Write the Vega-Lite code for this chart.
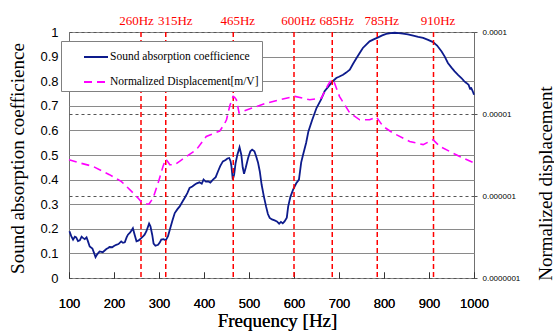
{
  "$schema": "https://vega.github.io/schema/vega-lite/v6.json",
  "width": 405,
  "height": 246,
  "autosize": {"type": "none"},
  "padding": {"left": 69, "top": 32, "right": 80, "bottom": 55},
  "background": "white",
  "config": {
    "font": "Liberation Sans",
    "view": {"stroke": "#707070", "strokeWidth": 1}
  },
  "datasets": {
    "absorption": [
      {"f":101,"a":0.19},{"f":105,"a":0.17},{"f":109,"a":0.156},{"f":113,"a":0.168},{"f":116,"a":0.165},
      {"f":120,"a":0.15},{"f":124,"a":0.153},{"f":128,"a":0.168},{"f":131,"a":0.163},{"f":135,"a":0.158},
      {"f":139,"a":0.165},{"f":142,"a":0.15},{"f":146,"a":0.128},{"f":152,"a":0.12},{"f":156,"a":0.1},
      {"f":159,"a":0.085},{"f":163,"a":0.097},{"f":168,"a":0.108},{"f":175,"a":0.105},{"f":183,"a":0.118},
      {"f":187,"a":0.122},{"f":190,"a":0.126},{"f":196,"a":0.125},{"f":200,"a":0.13},{"f":205,"a":0.135},
      {"f":210,"a":0.138},{"f":216,"a":0.149},{"f":220,"a":0.143},{"f":224,"a":0.145},{"f":228,"a":0.165},
      {"f":231,"a":0.176},{"f":236,"a":0.185},{"f":242,"a":0.202},{"f":246,"a":0.175},{"f":250,"a":0.149},
      {"f":255,"a":0.153},{"f":261,"a":0.163},{"f":265,"a":0.17},{"f":268,"a":0.176},{"f":272,"a":0.19},
      {"f":278,"a":0.221},{"f":281,"a":0.21},{"f":285,"a":0.175},{"f":288,"a":0.14},{"f":292,"a":0.131},
      {"f":298,"a":0.135},{"f":302,"a":0.145},{"f":305,"a":0.156},{"f":310,"a":0.158},{"f":315,"a":0.153},
      {"f":320,"a":0.17},{"f":324,"a":0.196},{"f":330,"a":0.235},{"f":335,"a":0.264},{"f":341,"a":0.28},
      {"f":346,"a":0.291},{"f":352,"a":0.31},{"f":357,"a":0.325},{"f":363,"a":0.345},{"f":368,"a":0.366},
      {"f":374,"a":0.372},{"f":379,"a":0.379},{"f":384,"a":0.385},{"f":390,"a":0.389},{"f":395,"a":0.383},
      {"f":399,"a":0.4},{"f":404,"a":0.392},{"f":409,"a":0.393},{"f":414,"a":0.388},{"f":420,"a":0.4},
      {"f":426,"a":0.41},{"f":431,"a":0.433},{"f":436,"a":0.455},{"f":442,"a":0.474},{"f":448,"a":0.48},
      {"f":452,"a":0.486},{"f":456,"a":0.488},{"f":459,"a":0.475},{"f":461,"a":0.454},{"f":464,"a":0.4},
      {"f":467,"a":0.42},{"f":470,"a":0.465},{"f":474,"a":0.5},{"f":479,"a":0.531},{"f":483,"a":0.5},
      {"f":486,"a":0.45},{"f":489,"a":0.424},{"f":493,"a":0.45},{"f":498,"a":0.488},{"f":503,"a":0.515},
      {"f":507,"a":0.522},{"f":512,"a":0.515},{"f":516,"a":0.494},{"f":520,"a":0.47},{"f":524,"a":0.433},
      {"f":528,"a":0.38},{"f":533,"a":0.332},{"f":538,"a":0.29},{"f":542,"a":0.26},{"f":546,"a":0.244},
      {"f":551,"a":0.238},{"f":557,"a":0.234},{"f":562,"a":0.23},{"f":567,"a":0.221},{"f":571,"a":0.228},
      {"f":575,"a":0.222},{"f":579,"a":0.23},{"f":584,"a":0.245},{"f":587,"a":0.29},{"f":592,"a":0.33},
      {"f":598,"a":0.359},{"f":605,"a":0.385},{"f":611,"a":0.4},{"f":616,"a":0.47},{"f":620,"a":0.5},
      {"f":627,"a":0.55},{"f":632,"a":0.596},{"f":640,"a":0.64},{"f":650,"a":0.691},{"f":660,"a":0.725},
      {"f":668,"a":0.759},{"f":675,"a":0.775},{"f":683,"a":0.793},{"f":688,"a":0.803},{"f":694,"a":0.813},
      {"f":700,"a":0.818},{"f":709,"a":0.826},{"f":716,"a":0.835},{"f":724,"a":0.847},{"f":731,"a":0.87},
      {"f":739,"a":0.894},{"f":746,"a":0.915},{"f":753,"a":0.935},{"f":760,"a":0.948},{"f":768,"a":0.962},
      {"f":777,"a":0.97},{"f":787,"a":0.978},{"f":796,"a":0.986},{"f":805,"a":0.992},{"f":815,"a":0.995},
      {"f":824,"a":0.997},{"f":833,"a":0.995},{"f":842,"a":0.993},{"f":853,"a":0.99},{"f":865,"a":0.985},
      {"f":876,"a":0.98},{"f":887,"a":0.976},{"f":898,"a":0.968},{"f":909,"a":0.959},{"f":918,"a":0.945},
      {"f":928,"a":0.921},{"f":935,"a":0.9},{"f":942,"a":0.874},{"f":950,"a":0.855},{"f":957,"a":0.84},
      {"f":965,"a":0.825},{"f":972,"a":0.813},{"f":978,"a":0.8},{"f":983,"a":0.793},{"f":988,"a":0.785},
      {"f":991,"a":0.77},{"f":994,"a":0.772},{"f":997,"a":0.76},{"f":1000,"a":0.745}
    ],
    "displacement": [
      {"f":100,"d":2.77e-6},{"f":124,"d":2.53e-6},{"f":153,"d":2.30e-6},{"f":190,"d":1.82e-6},
      {"f":216,"d":1.51e-6},{"f":239,"d":1.14e-6},{"f":253,"d":9.5e-7},{"f":263,"d":8.2e-7},
      {"f":268,"d":8.0e-7},{"f":278,"d":8.0e-7},{"f":287,"d":9.5e-7},{"f":298,"d":1.44e-6},
      {"f":309,"d":2.30e-6},{"f":315,"d":2.82e-6},{"f":320,"d":2.6e-6},{"f":324,"d":2.41e-6},
      {"f":335,"d":2.41e-6},{"f":348,"d":2.7e-6},{"f":361,"d":3.04e-6},{"f":383,"d":3.67e-6},
      {"f":405,"d":5.33e-6},{"f":425,"d":5.9e-6},{"f":435,"d":6.2e-6},{"f":445,"d":7.5e-6},
      {"f":450,"d":8.5e-6},{"f":457,"d":1.24e-5},{"f":462,"d":1.5e-5},{"f":465,"d":1.64e-5},
      {"f":468,"d":1.6e-5},{"f":472,"d":1.49e-5},{"f":478,"d":1.03e-5},{"f":487,"d":1.08e-5},
      {"f":510,"d":1.2e-5},{"f":539,"d":1.36e-5},{"f":568,"d":1.49e-5},{"f":602,"d":1.64e-5},
      {"f":635,"d":1.49e-5},{"f":661,"d":1.57e-5},{"f":676,"d":2.28e-5},{"f":683,"d":2.62e-5},
      {"f":690,"d":2.39e-5},{"f":701,"d":1.64e-5},{"f":724,"d":1.03e-5},{"f":746,"d":8.5e-6},
      {"f":768,"d":8.5e-6},{"f":783,"d":9.2e-6},{"f":798,"d":7.06e-6},{"f":820,"d":5.86e-6},
      {"f":857,"d":4.63e-6},{"f":887,"d":4.23e-6},{"f":909,"d":4.86e-6},{"f":924,"d":4.03e-6},
      {"f":953,"d":3.34e-6},{"f":976,"d":2.90e-6},{"f":1000,"d":2.53e-6}
    ],
    "peaks": [
      {"f":260},{"f":315},{"f":465},{"f":600},{"f":685},{"f":785},{"f":910}
    ]
  },
  "layer": [
    {
      "data": {"name": "absorption"},
      "mark": {"type": "line", "strokeWidth": 1.8},
      "encoding": {
        "x": {
          "field": "f",
          "type": "quantitative",
          "scale": {"domain": [100, 1000], "nice": false},
          "axis": {
            "orient": "bottom",
            "values": [100,200,300,400,500,600,700,800,900,1000],
            "grid": false,
            "domain": false,
            "tickSize": -6,
            "tickColor": "#333333",
            "labelPadding": 25,
            "labelFlush": false,
            "labelOverlap": false,
            "labelFont": "Liberation Sans",
            "labelFontSize": 13,
            "labelColor": "black",
            "format": "d",
            "title": "Frequency [Hz]",
            "titleFont": "Liberation Serif",
            "titleFontSize": 19,
            "titleFontWeight": "normal",
            "titleColor": "black",
            "titleX": 208,
            "titleY": 42,
            "titleAlign": "center",
            "titleBaseline": "middle"
          }
        },
        "y": {
          "field": "a",
          "type": "quantitative",
          "scale": {"domain": [0, 1], "nice": false},
          "axis": {
            "orient": "left",
            "values": [0,0.1,0.2,0.3,0.4,0.5,0.6,0.7,0.8,0.9,1],
            "format": ".1~f",
            "grid": true,
            "gridColor": "#8a8a8a",
            "gridWidth": 1.2,
            "ticks": false,
            "domain": false,
            "labelOverlap": false,
            "labelFlush": false,
            "labelPadding": 11,
            "labelFont": "Liberation Sans",
            "labelFontSize": 13,
            "labelColor": "black",
            "title": "Sound absorption coefficience",
            "titleFont": "Liberation Serif",
            "titleFontSize": 19,
            "titleFontWeight": "normal",
            "titleColor": "black",
            "titleAngle": -90,
            "titleX": -52,
            "titleY": 126,
            "titleAlign": "center",
            "titleBaseline": "middle"
          }
        },
        "color": {
          "datum": "Sound absorption coefficience",
          "type": "nominal",
          "scale": {
            "domain": ["Sound absorption coefficience", "Normalized Displacement[m/V]"],
            "range": ["#0D1B8C", "#FF00FF"]
          },
          "legend": {
            "orient": "none",
            "legendX": -8,
            "legendY": 9,
            "title": null,
            "fillColor": "white",
            "strokeColor": "#808080",
            "padding": 3,
            "rowPadding": 6,
            "symbolType": "stroke",
            "symbolSize": 576,
            "symbolStrokeWidth": 2,
            "symbolOffset": 19,
            "labelFont": "Liberation Serif",
            "labelFontSize": 11.5,
            "labelColor": "black",
            "labelOffset": 1,
            "labelLimit": 300,
            "labelExpr": "datum.label + '\u00a0\u00a0\u00a0\u00a0\u00a0\u00a0\u00a0\u00a0\u00a0'",
            "encode": {
              "symbols": {
                "update": {
                  "strokeDash": {"signal": "datum.value === 'Normalized Displacement[m/V]' ? [8, 5] : [1, 0]"}
                }
              }
            }
          }
        }
      }
    },
    {
      "data": {"name": "peaks"},
      "mark": {"type": "rule", "color": "#FF0000", "strokeWidth": 1.5, "strokeDash": [5, 3]},
      "encoding": {
        "x": {
          "field": "f",
          "type": "quantitative",
          "axis": {
            "orient": "top",
            "values": [260, 315, 465, 600, 685, 785, 910],
            "labelExpr": "datum.value + 'Hz'",
            "grid": false,
            "domain": false,
            "ticks": false,
            "labelOverlap": false,
            "labelFlush": false,
            "labelPadding": 12,
            "labelBaseline": "middle",
            "labelOffset": {
              "condition": [
                {"test": "datum.value == 260", "value": -5},
                {"test": "datum.value == 315", "value": 9}
              ],
              "value": 4
            },
            "labelFont": "Liberation Serif",
            "labelFontSize": 13,
            "labelColor": "#FF0000",
            "title": null
          }
        }
      }
    },
    {
      "data": {"name": "displacement"},
      "mark": {"type": "line", "strokeWidth": 1.6, "strokeDash": [8, 5]},
      "encoding": {
        "x": {
          "field": "f",
          "type": "quantitative",
          "axis": {
            "orient": "bottom",
            "values": [100,200,300,400,500,600,700,800,900,1000],
            "grid": false,
            "domain": false,
            "tickSize": -6,
            "tickColor": "#333333",
            "labelPadding": 25,
            "labelFlush": false,
            "labelOverlap": false,
            "labelFont": "Liberation Sans",
            "labelFontSize": 13,
            "labelColor": "black",
            "format": "d",
            "title": "Frequency [Hz]",
            "titleFont": "Liberation Serif",
            "titleFontSize": 19,
            "titleFontWeight": "normal",
            "titleColor": "black",
            "titleX": 208,
            "titleY": 42,
            "titleAlign": "center",
            "titleBaseline": "middle"
          }
        },
        "y": {
          "field": "d",
          "type": "quantitative",
          "scale": {"type": "log", "domain": [1e-7, 1e-4], "nice": false},
          "axis": {
            "orient": "right",
            "values": [1e-4, 1e-5, 1e-6, 1e-7],
            "format": ".7~f",
            "grid": true,
            "gridColor": "#555555",
            "gridDash": [3, 3],
            "gridWidth": 1,
            "domain": false,
            "ticks": true,
            "tickSize": 3,
            "tickColor": "#555555",
            "labelPadding": 5,
            "labelOverlap": false,
            "labelFlush": false,
            "labelFont": "Liberation Sans",
            "labelFontSize": 8,
            "labelColor": "black",
            "title": "Normalized displacement",
            "titleFont": "Liberation Serif",
            "titleFontSize": 19,
            "titleFontWeight": "normal",
            "titleColor": "black",
            "titleAngle": -90,
            "titleX": 71,
            "titleY": 151,
            "titleAlign": "center",
            "titleBaseline": "middle"
          }
        },
        "color": {
          "datum": "Normalized Displacement[m/V]",
          "type": "nominal"
        }
      }
    }
  ],
  "resolve": {"scale": {"y": "independent"}}
}
